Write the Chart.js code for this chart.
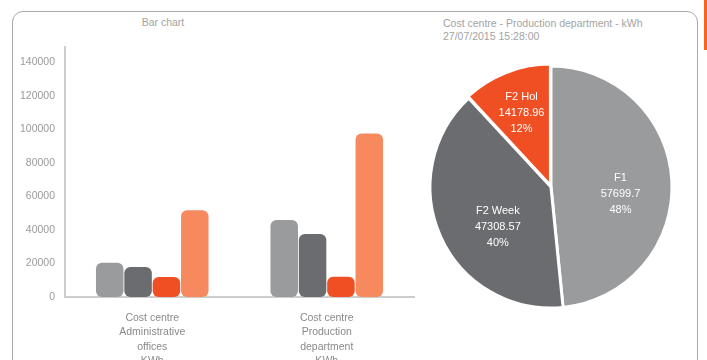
<!DOCTYPE html>
<html>
<head>
<meta charset="utf-8">
<script src="https://cdn.jsdelivr.net/npm/chart.js@4.4.1/dist/chart.umd.min.js"></script>
<style>
  html, body { margin: 0; padding: 0; background: #fff; }
  body { width: 707px; height: 360px; position: relative; overflow: hidden;
         font-family: "Liberation Sans", Arial, sans-serif; }
  #frame { position: absolute; left: 12px; top: 11px; width: 686px; height: 380px;
           border: 1.5px solid #aaa; border-radius: 11px; box-sizing: border-box; }
  #tab { position: absolute; left: 704px; top: 0; width: 3px; height: 50px; background: #f26522; }
  .title { position: absolute; color: #a3a3a3; font-size: 10.5px; line-height: 13px; white-space: nowrap; }
  #barTitle { left: 0; width: 326px; text-align: center; top: 16px; }
  #pieTitle { left: 443px; top: 17px; }
  canvas { position: absolute; top: 0; }
  #bar { left: 0; }
  #pie { left: 420px; }
</style>
</head>
<body>
<div id="frame"></div>
<div id="tab"></div>
<div class="title" id="barTitle">Bar chart</div>
<div class="title" id="pieTitle">Cost centre - Production department - kWh<br>27/07/2015 15:28:00</div>
<canvas id="bar" width="420" height="360"></canvas>
<canvas id="pie" width="287" height="360"></canvas>
<script>
// ---- data ----
const categories = [
  ['Cost centre', 'Administrative', 'offices', 'KWh'],
  ['Cost centre', 'Production', 'department', 'KWh']
];
const seriesNames = ['F1', 'F2 Week', 'F2 Hol', 'Total'];
const seriesF1 = [20400, 45900];
const seriesF2Week = [17900, 37500];
const seriesF2Hol = [11900, 12100];
const seriesTotal = [51650, 97500];
const yTicks = [0, 20000, 40000, 60000, 80000, 100000, 120000, 140000];

const pieLabels = ['F1', 'F2 Week', 'F2 Hol'];
const pieValues = [57699.7, 47308.57, 14178.96];

// ---- styles ----
const FONT = '"Liberation Sans", Arial, sans-serif';
const colors = ['#9a9b9d', '#6b6c6f', '#f04e23', '#f68a5e'];

Chart.defaults.font.family = FONT;
Chart.defaults.devicePixelRatio = 1;
Chart.defaults.animation = false;

const barSeries = [seriesF1, seriesF2Week, seriesF2Hol, seriesTotal];

new Chart(document.getElementById('bar'), {
  type: 'bar',
  data: {
    labels: categories,
    datasets: barSeries.map((d, i) => ({
      label: seriesNames[i],
      data: d,
      backgroundColor: colors[i],
      borderRadius: 6,
      borderSkipped: false,
      barPercentage: 0.97,
      categoryPercentage: 0.65
    }))
  },
  options: {
    responsive: false,
    layout: { padding: { left: 0, right: 6, top: 47, bottom: 0 } },
    plugins: { legend: { display: false }, tooltip: { enabled: false }, title: { display: false } },
    scales: {
      x: {
        grid: { display: false },
        border: { display: true, color: '#cdcdcd', width: 2 },
        ticks: { color: '#8a8a8a', font: { size: 10.5, lineHeight: 1.36 }, padding: 6, maxRotation: 0, autoSkip: false },
        afterFit: (s) => { s.height = 63; }
      },
      y: {
        min: 0, max: 149000,
        grid: { display: false, drawTicks: false },
        border: { display: true, color: '#cdcdcd', width: 2 },
        ticks: { color: '#9a9a9a', font: { size: 10.5 }, padding: 10, callback: (v) => String(v) },
        afterBuildTicks: (s) => { s.ticks = yTicks.map(v => ({ value: v })); },
        afterFit: (s) => { s.width = 65; }
      }
    }
  }
});

const total = pieValues.reduce((a, b) => a + b, 0);
// small per-slice nudges of the label block (pixels)
const labelNudge = [[-3, 11], [13, 10], [-3, -6]];

const pieLabelPlugin = {
  id: 'pieLabels',
  afterDatasetsDraw(chart) {
    const ctx = chart.ctx;
    const meta = chart.getDatasetMeta(0);
    ctx.save();
    ctx.fillStyle = '#ffffff';
    ctx.font = '11px ' + FONT;
    ctx.textAlign = 'center';
    ctx.textBaseline = 'middle';
    meta.data.forEach((arc, i) => {
      const p = arc.getProps(['x', 'y', 'startAngle', 'endAngle', 'outerRadius']);
      const mid = (p.startAngle + p.endAngle) / 2;
      const r = p.outerRadius * 0.6;
      const cx = p.x + Math.cos(mid) * r + labelNudge[i][0];
      const cy = p.y + Math.sin(mid) * r + labelNudge[i][1];
      const lines = [pieLabels[i], String(pieValues[i]), Math.round(pieValues[i] / total * 100) + '%'];
      lines.forEach((t, k) => ctx.fillText(t, cx, cy + (k - 1) * 16));
    });
    ctx.restore();
  }
};

new Chart(document.getElementById('pie'), {
  type: 'pie',
  data: {
    labels: pieLabels,
    datasets: [{
      data: pieValues,
      backgroundColor: colors.slice(0, 3),
      borderColor: '#ffffff',
      borderWidth: 3,
      offset: [0, 0, 6]
    }]
  },
  options: {
    responsive: false,
    layout: { padding: { left: 5.5, right: 30.5, top: 61.5, bottom: 47.5 } },
    plugins: { legend: { display: false }, tooltip: { enabled: false }, title: { display: false } }
  },
  plugins: [pieLabelPlugin]
});
</script>
</body>
</html>
